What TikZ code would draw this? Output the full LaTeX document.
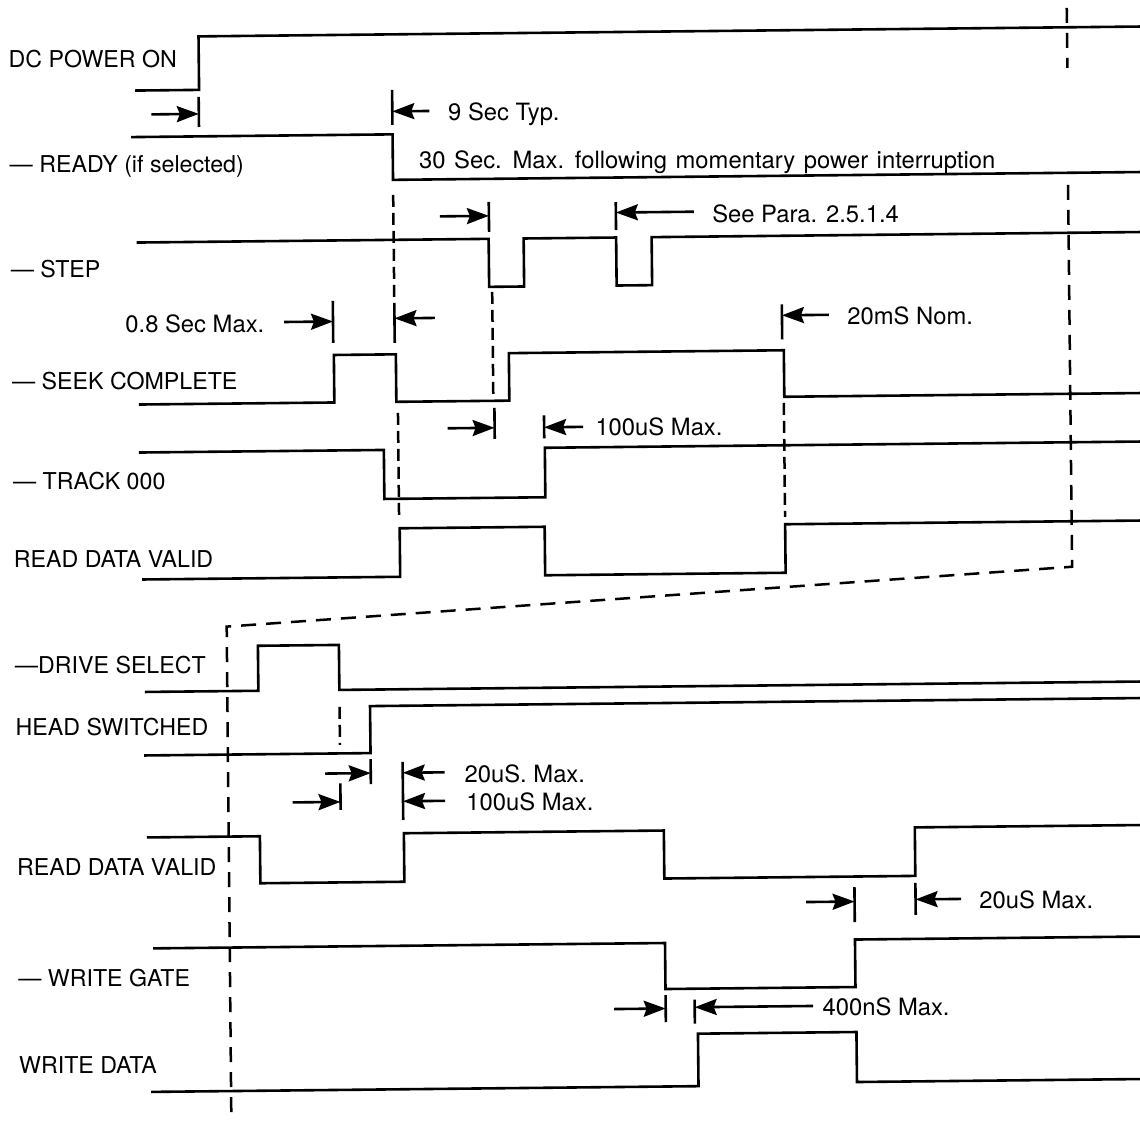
\documentclass[tikz,border=0pt]{standalone}
\usepackage{fontspec}
\setmainfont{TeX Gyre Heros}
\usetikzlibrary{arrows.meta}

\begin{document}
\begin{tikzpicture}[
        x=1pt, y=-1pt,
        line width=2.6pt,
        % linee dei segnali
        sig/.style={line width=2.6pt},
        % tacche di riferimento
        tacca/.style={line width=2.6pt},
        % tratteggio corto tra i fronti
        guida/.style={line width=2.5pt, dash pattern=on 12pt off 6pt},
        % tratteggio lungo della cornice
        cornice/.style={line width=2.5pt, dash pattern=on 15pt off 10pt},
        % nomi dei segnali e note
        lbl/.style={anchor=base west, inner sep=0pt, font=\fontsize{23.2}{28}\selectfont},
        nota/.style={anchor=base west, inner sep=0pt, font=\fontsize{23.8}{28}\selectfont},
        >={Stealth[length=22pt, width=16pt, inset=3pt]},
    ]
    \useasboundingbox (0,0) rectangle (1140,1120);

    \begin{scope}[rotate around={0.6:(570,560)}]

    % nomi dei segnali
    \node[lbl] (dcpower) at (12.5,61.5) {DC POWER ON};
    \node[lbl] (ready) at (12.5,167) {\textemdash\ READY (if selected)};
    \node[lbl] (step) at (12.5,272) {\textemdash\ STEP};
    \node[lbl] (seek) at (12.5,384) {\textemdash\ SEEK COMPLETE};
    \node[lbl] (track) at (12.5,483.5) {\textemdash\ TRACK 000};
    \node[lbl] (rdvup) at (12.5,561.5) {READ DATA VALID};
    \node[lbl] (dsel) at (12.5,667.5) {\textemdash DRIVE SELECT};
    \node[lbl] (headsw) at (12.5,729.5) {HEAD SWITCHED};
    \node[lbl] (rdvdown) at (12.5,869.5) {READ DATA VALID};
    \node[lbl] (wgate) at (12.5,980.5) {\textemdash\ WRITE GATE};
    \node[lbl] (wdata) at (12.5,1067.5) {WRITE DATA};

    % note dei tempi
    \node[nota] (ninesec) at (451.5,119) {9 Sec Typ.};
    \node[nota] (thirtysec) at (422,167) {\spaceskip=0.36em 30 Sec. Max. following momentary power interruption};
    \node[nota] (para) at (714.5,224) {See Para. 2.5.1.4};
    \node[nota] (eightsec) at (126.5,327.5) {0.8 Sec Max.};
    \node[nota] (twentyms) at (848.5,327) {20mS Nom.};
    \node[nota] (hundredus) at (595.5,436) {100uS Max.};
    \node[nota] (twentyusa) at (461,781) {20uS. Max.};
    \node[nota] (hundredusb) at (462.5,809) {100uS Max.};
    \node[nota] (twentyusb) at (974.5,912.5) {20uS Max.};
    \node[nota] (fourns) at (816.5,1018.5) {400nS Max.};

    % forme d'onda
    \draw[sig] (140,86) -- (204,86) -- (204,32.5) -- (1146,32.5);
    \draw[sig] (135.5,132.5) -- (397,132.5) -- (397,178) -- (1146,178);
    \draw[sig] (140,238) -- (492,238) -- (492,286) -- (527,286) -- (527,238) -- (619.5,238)
        -- (619.5,286) -- (655,286) -- (655,238) -- (1146,238);
    \draw[sig] (140.5,400) -- (336,400) -- (336,352.5) -- (398,352.5) -- (398,400) -- (511,400)
        -- (511,352.5) -- (786,352.5) -- (786,399) -- (1146,399);
    \draw[sig] (140,448) -- (385,448) -- (385,497) -- (546,497) -- (546,447.5) -- (1146,447.5);
    \draw[sig] (142,575) -- (400,575) -- (400,526.5) -- (545,526.5) -- (545,575) -- (785.5,575)
        -- (785.5,526.5) -- (1146,526.5);
    \draw[sig] (143.5,687.5) -- (257,687.5) -- (257,642.5) -- (338,642.5) -- (338,687.5) -- (1146,687.5);
    \draw[sig] (142,751) -- (368.5,751) -- (368.5,704) -- (1146,704);
    \draw[sig] (144,833) -- (257,833) -- (257,880) -- (401,880) -- (401,831.5) -- (661,831.5)
        -- (661,879.5) -- (912,879.5) -- (912,831) -- (1146,831);
    \draw[sig] (149,944) -- (661,944) -- (661,990) -- (851,990) -- (851,942.5) -- (1146,942.5);
    \draw[sig] (145.5,1087.5) -- (693,1087.5) -- (693,1035) -- (851.5,1035) -- (851.5,1085) -- (1146,1085);

    % tratteggi tra i fronti
    \draw[guida] (397,193) -- (397,303);
    \draw[guida] (399.5,411) -- (399.5,515);
    \draw[guida] (495,291) -- (495,395);
    \draw[guida] (785.5,405) -- (785.5,519);
    \draw[guida] (338,704.5) -- (338,742.5);
    \draw[cornice] (1072.5,13) -- (1072.5,73);
    \draw[cornice] (1072,190) -- (1072,572) -- (226,623) -- (225.5,1113.5);

    % tacche e frecce
    \draw[tacca] (203.5,93) -- (203.5,123);
    \draw[->] (156,110) -- (203.5,110);
    \draw[tacca] (397,88) -- (397,123);
    \draw[->] (434,109.5) -- (397,109.5);
    \draw[tacca] (492.5,201) -- (492.5,231);
    \draw[->] (443.5,215) -- (492.5,215);
    \draw[tacca] (619.5,202.5) -- (619.5,230.5);
    \draw[->] (697.5,213) -- (619.5,213);
    \draw[tacca] (335.5,298.5) -- (335.5,340.5);
    \draw[->] (286.5,319) -- (335.5,319);
    \draw[tacca] (397,303) -- (397,341);
    \draw[->] (437.5,316.5) -- (397,316.5);
    \draw[tacca] (496,407) -- (496,438);
    \draw[->] (449,427) -- (496,427);
    \draw[tacca] (545.5,415) -- (545.5,438);
    \draw[->] (584.5,427) -- (545.5,427);
    \draw[tacca] (784.5,306.5) -- (784.5,341.5);
    \draw[->] (831.5,317.5) -- (784.5,317.5);

    \draw[tacca] (368.5,757) -- (368.5,782);
    \draw[->] (323,771) -- (368.5,771);
    \draw[tacca] (338,781) -- (338,807.5);
    \draw[->] (290,799.5) -- (338,799.5);
    \draw[tacca] (400.5,760) -- (400.5,818);
    \draw[->] (442.5,771) -- (400.5,771);
    \draw[->] (442.5,799.5) -- (400.5,799.5);
    \draw[tacca] (851,890) -- (851,925);
    \draw[->] (802.5,904.5) -- (851,904.5);
    \draw[tacca] (912,886.5) -- (912,918.5);
    \draw[->] (957.5,903) -- (912,903);
    \draw[tacca] (661,996) -- (661,1023);
    \draw[->] (609.5,1009.5) -- (661,1009.5);
    \draw[tacca] (690,1001) -- (690,1025);
    \draw[->] (808.5,1008.5) -- (690,1008.5);

    \end{scope}
\end{tikzpicture}
\end{document}
